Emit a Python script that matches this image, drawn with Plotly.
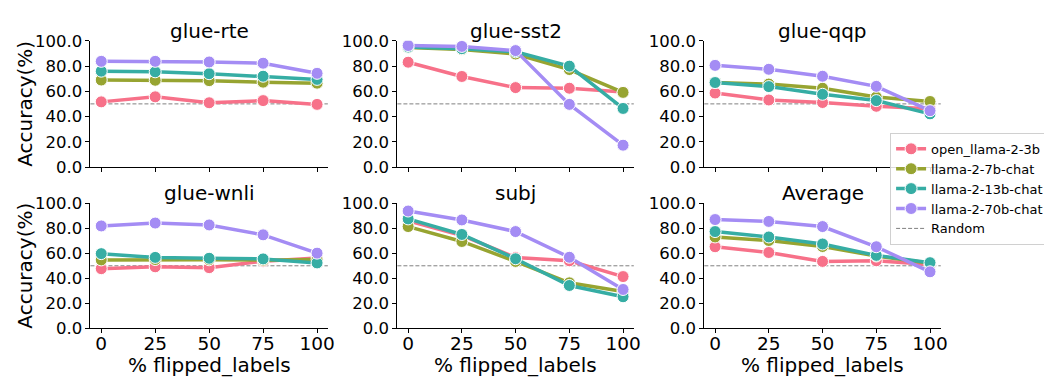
import plotly.graph_objects as go

x_vals = [0, 25, 50, 75, 100]
models = ["open_llama-2-3b", "llama-2-7b-chat", "llama-2-13b-chat", "llama-2-70b-chat"]
colors = ["#f77189", "#97a431", "#36ada4", "#a48cf4"]
tasks = ["glue-rte", "glue-sst2", "glue-qqp", "glue-wnli", "subj", "Average"]

glue_rte = {
    "open_llama-2-3b": [51.6, 55.6, 50.9, 52.6, 49.6],
    "llama-2-7b-chat": [68.9, 68.7, 68.4, 67.2, 66.4],
    "llama-2-13b-chat": [75.9, 75.4, 73.9, 71.9, 69.4],
    "llama-2-70b-chat": [83.7, 83.7, 83.2, 82.2, 74.2],
}
glue_sst2 = {
    "open_llama-2-3b": [83.0, 71.7, 62.9, 62.4, 59.4],
    "llama-2-7b-chat": [94.7, 93.0, 89.5, 77.2, 59.1],
    "llama-2-13b-chat": [95.0, 93.7, 91.2, 79.9, 46.4],
    "llama-2-70b-chat": [96.2, 95.5, 92.2, 49.6, 17.3],
}
glue_qqp = {
    "open_llama-2-3b": [58.6, 53.1, 51.1, 48.1, 46.1],
    "llama-2-7b-chat": [66.9, 65.7, 62.4, 55.4, 51.9],
    "llama-2-13b-chat": [66.9, 63.7, 57.6, 52.6, 42.1],
    "llama-2-70b-chat": [80.5, 77.4, 71.9, 63.9, 44.6],
}
glue_wnli = {
    "open_llama-2-3b": [47.7, 49.2, 48.5, 53.7, 56.2],
    "llama-2-7b-chat": [54.7, 55.0, 54.8, 54.5, 55.0],
    "llama-2-13b-chat": [59.7, 56.7, 56.0, 55.5, 52.3],
    "llama-2-70b-chat": [81.8, 84.1, 82.6, 74.7, 60.1],
}
subj = {
    "open_llama-2-3b": [85.9, 74.2, 56.6, 54.0, 41.4],
    "llama-2-7b-chat": [81.3, 69.4, 53.5, 36.4, 29.5],
    "llama-2-13b-chat": [87.4, 75.0, 55.6, 34.3, 25.3],
    "llama-2-70b-chat": [93.7, 86.6, 77.3, 56.8, 31.1],
}
average = {
    "open_llama-2-3b": [65.2, 60.6, 53.5, 54.0, 51.0],
    "llama-2-7b-chat": [73.0, 70.2, 65.4, 57.8, 52.0],
    "llama-2-13b-chat": [77.3, 73.0, 67.4, 58.3, 52.5],
    "llama-2-70b-chat": [86.9, 85.4, 81.3, 65.2, 45.2],
}
task_data = [glue_rte, glue_sst2, glue_qqp, glue_wnli, subj, average]
random_baseline = 50
y_ticks = [0, 20, 40, 60, 80, 100]

W, H = 1052, 377
FONT = "DejaVu Sans"
col_px = [(83, 322), (392, 630), (701, 939)]
row_px = [(25, 158), (196, 328)]

fig = go.Figure()
annotations = []
shapes = []

for i, task in enumerate(tasks):
    r, c = divmod(i, 3)
    n = i + 1
    xa = "xaxis" if n == 1 else f"xaxis{n}"
    ya = "yaxis" if n == 1 else f"yaxis{n}"
    xref = "x" if n == 1 else f"x{n}"
    yref = "y" if n == 1 else f"y{n}"
    x0, x1 = col_px[c]
    y0, y1 = row_px[r]
    xdom = [x0 / W, x1 / W]
    ydom = [1 - y1 / H, 1 - y0 / H]
    fig.layout[xa] = dict(
        domain=xdom, anchor=yref, range=[-5, 105], tickvals=x_vals,
        showticklabels=(r == 1), showline=True, linecolor="black", linewidth=1,
        ticks="outside", ticklen=4, tickwidth=1, tickcolor="black",
        showgrid=False, zeroline=False, ticklabelstandoff=-6,
        tickfont=dict(family=FONT, size=18.5, color="black"),
    )
    fig.layout[ya] = dict(
        domain=ydom, anchor=xref, range=[0, 100], tickvals=y_ticks,
        ticktext=[f"{v:.1f}" for v in y_ticks],
        showline=True, linecolor="black", linewidth=1,
        ticks="outside", ticklen=4, tickwidth=1, tickcolor="black",
        showgrid=False, zeroline=False,
        tickfont=dict(family=FONT, size=16.5, color="black"),
    )
    shapes.append(dict(type="line", xref=f"{xref} domain", yref=yref,
                       x0=0, x1=1, y0=random_baseline, y1=random_baseline,
                       line=dict(color="#808080", width=1, dash="4px,2px"),
                       layer="below"))
    data = task_data[i]
    for m, col in zip(models, colors):
        fig.add_trace(go.Scatter(
            x=x_vals, y=data[m], mode="lines+markers", name=m,
            line=dict(color=col, width=3.5),
            marker=dict(color=col, size=12, line=dict(color="white", width=1)),
            xaxis=xref, yaxis=yref, showlegend=(i == 0), legendgroup=m,
        ))
    annotations.append(dict(text=task, x=(x0 + x1) / 2 / W, y=1 - (15 if r == 0 else 185) / H,
                            xref="paper", yref="paper", showarrow=False,
                            xanchor="center", yanchor="middle",
                            font=dict(family=FONT, size=20, color="black")))
    if c == 0:
        annotations.append(dict(text="Accuracy(%)", x=17 / W, y=1 - (y0 + y1) / 2 / H,
                                xref="paper", yref="paper", showarrow=False, textangle=-90,
                                xanchor="center", yanchor="middle",
                                font=dict(family=FONT, size=20, color="black")))
    if r == 1:
        annotations.append(dict(text="% flipped_labels", x=(x0 + x1) / 2 / W, y=1 - 366 / H,
                                xref="paper", yref="paper", showarrow=False,
                                xanchor="center", yanchor="middle",
                                font=dict(family=FONT, size=20, color="black")))

fig.add_trace(go.Scatter(x=[None], y=[None], mode="lines", name="Random",
                         line=dict(color="#808080", width=1, dash="4px,2px"),
                         showlegend=True))

fig.update_layout(
    width=W, height=H, margin=dict(l=0, r=0, t=0, b=0),
    plot_bgcolor="white", paper_bgcolor="white",
    annotations=annotations, shapes=shapes,
    legend=dict(x=888 / W, y=1 - 122 / H, xanchor="left", yanchor="top",
                bgcolor="rgba(255,255,255,0.85)", bordercolor="#d0d0d0", borderwidth=1,
                font=dict(family=FONT, size=13, color="black"),
                tracegroupgap=0, itemwidth=30),
    font=dict(family=FONT),
)

fig.write_html("out.html")
